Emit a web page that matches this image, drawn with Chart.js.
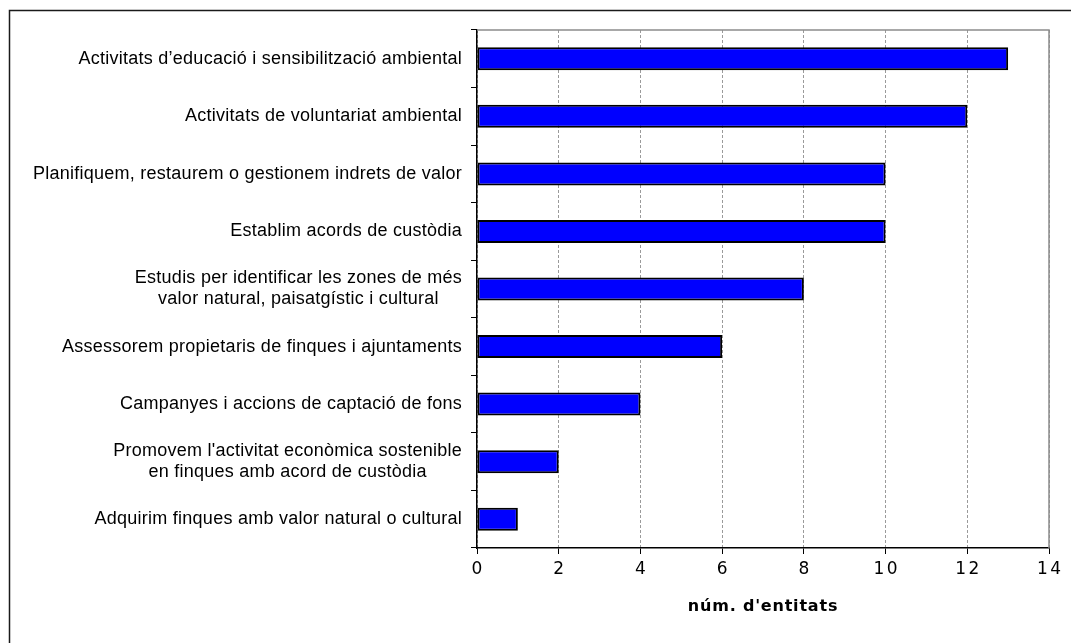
<!DOCTYPE html>
<html>
<head>
<meta charset="utf-8">
<script src="https://cdn.jsdelivr.net/npm/chart.js@4/dist/chart.umd.min.js"></script>
<style>
  html, body { margin: 0; padding: 0; background: #fff; }
  #wrap { width: 1071px; height: 643px; position: relative; }
</style>
</head>
<body>
<div id="wrap"><canvas id="c" width="1071" height="643"></canvas></div>
<script>
// Activities carried out by the entities (each label split into its display lines)
const categories = [
  ["Activitats d\u2019educació i sensibilització ambiental"],
  ["Activitats de voluntariat ambiental"],
  ["Planifiquem, restaurem o gestionem indrets de valor"],
  ["Establim acords de custòdia"],
  ["Estudis per identificar les zones de més", "valor natural, paisatgístic i cultural"],
  ["Assessorem propietaris de finques i ajuntaments"],
  ["Campanyes i accions de captació de fons"],
  ["Promovem l'activitat econòmica sostenible", "en finques amb acord de custòdia"],
  ["Adquirim finques amb valor natural o cultural"]
];
const entityCounts = [13, 12, 10, 10, 8, 6, 4, 2, 1];
const axisTitle = "núm. d'entitats";
const axisMin = 0, axisMax = 14, axisStep = 2;

const LABEL_FONT = '18px "Liberation Sans", Arial, sans-serif';

// Text spacing is part of the canvas state; reapply after every resize/reset
const spacingPlugin = {
  id: 'spacing',
  beforeLayout(chart) { chart.ctx.letterSpacing = '0.8px'; },
  afterLayout(chart) {
    // numeric tick labels on the value axis are spaced wider
    const sx = chart.scales.x;
    if (sx && !sx.__spaced) {
      const orig = sx.drawLabels;
      sx.drawLabels = function (area) {
        const c = this.ctx;
        const prev = c.letterSpacing;
        c.letterSpacing = '2.5px';
        c.save();
        c.translate(1.25, 0);
        orig.call(this, area);
        c.restore();
        c.letterSpacing = prev;
      };
      sx.__spaced = true;
    }
  },
  beforeDraw(chart) { chart.ctx.letterSpacing = '0.8px'; }
};

// Outer frame (top and left edges) plus the light top/right edges of the plot
const framePlugin = {
  id: 'frame',
  beforeDraw(chart) {
    const ctx = chart.ctx;
    ctx.save();
    ctx.fillStyle = '#fff';
    ctx.fillRect(0, 0, chart.width, chart.height);
    ctx.strokeStyle = '#1a1a1a';
    ctx.lineWidth = 1.5;
    ctx.beginPath();
    ctx.moveTo(9.5, chart.height);
    ctx.lineTo(9.5, 10.5);
    ctx.lineTo(chart.width, 10.5);
    ctx.stroke();
    ctx.restore();
  },
  afterDatasetsDraw(chart) {
    const {ctx, chartArea: a} = chart;
    ctx.save();
    ctx.strokeStyle = '#8c8c8c';
    ctx.lineWidth = 1.5;
    ctx.beginPath();
    ctx.moveTo(a.left, a.top);
    ctx.lineTo(a.right, a.top);
    ctx.lineTo(a.right, a.bottom);
    ctx.stroke();
    ctx.restore();
  }
};

// Category labels: block right-aligned next to the axis, lines centred within the block
const categoryLabelPlugin = {
  id: 'categoryLabels',
  afterDraw(chart) {
    const ctx = chart.ctx;
    const y = chart.scales.y;
    const rightEdge = chart.chartArea.left - 15;
    const lineH = 21;
    ctx.save();
    ctx.letterSpacing = '0.25px';
    ctx.font = LABEL_FONT;
    ctx.fillStyle = '#000';
    ctx.textBaseline = 'middle';
    ctx.textAlign = 'center';
    categories.forEach((lines, i) => {
      const cy = y.getPixelForTick(i);
      const w = Math.max(...lines.map(l => ctx.measureText(l).width));
      const cx = rightEdge - w / 2;
      const y0 = cy - (lines.length - 1) * lineH / 2;
      lines.forEach((l, k) => ctx.fillText(l, cx, y0 + k * lineH));
    });
    ctx.restore();
  }
};

new Chart(document.getElementById('c'), {
  type: 'bar',
  data: {
    labels: categories,
    datasets: [{
      data: entityCounts,
      backgroundColor: '#0000ff',
      borderColor: '#000000',
      borderWidth: 2,
      borderSkipped: false,
      categoryPercentage: 1.0,
      barPercentage: 0.4
    }]
  },
  options: {
    indexAxis: 'y',
    responsive: false,
    animation: false,
    devicePixelRatio: 1,
    layout: { padding: { top: 30, right: 22, left: 0, bottom: 0 } },
    plugins: { legend: { display: false }, tooltip: { enabled: false } },
    scales: {
      x: {
        min: axisMin,
        max: axisMax,
        ticks: {
          stepSize: axisStep,
          color: '#000',
          padding: 5,
          font: { family: '"DejaVu Sans", Verdana, sans-serif', size: 17 }
        },
        grid: {
          color: '#9a9a9a',
          lineWidth: 1,
          tickColor: '#000',
          tickLength: 6,
          tickWidth: 1
        },
        border: { display: true, color: '#000', width: 1.5, dash: [3, 2] },
        title: {
          display: true,
          text: axisTitle,
          color: '#000',
          font: { family: '"DejaVu Sans", Verdana, sans-serif', size: 16, weight: 'bold' },
          padding: { top: 0, bottom: 27 }
        },
        afterFit(scale) { scale.height = 95; }
      },
      y: {
        ticks: { display: false },
        grid: {
          drawOnChartArea: false,
          drawTicks: true,
          tickLength: 6,
          tickColor: '#000',
          tickWidth: 1
        },
        border: { display: true, color: '#000', width: 1.5 },
        afterFit(scale) { scale.width = 477; }
      }
    }
  },
  plugins: [spacingPlugin, framePlugin, categoryLabelPlugin]
});
</script>
</body>
</html>
